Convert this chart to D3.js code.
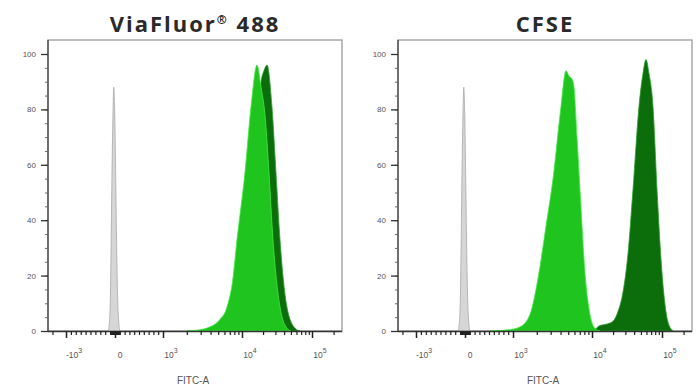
<!DOCTYPE html>
<html>
<head>
<meta charset="utf-8">
<script src="https://cdn.jsdelivr.net/npm/d3@7"></script>
<style>
  body { margin: 0; background: #fff; }
  svg { display: block; font-family: "Liberation Sans", Arial, sans-serif; }
</style>
</head>
<body>
<svg id="chart" width="700" height="390"></svg>
<script>
// --- data (FITC-A intensity, % of max) ---
const panelTitles = ["ViaFluor", "CFSE"];
const yTicks = [0, 20, 40, 60, 80, 100];
const xTicks = [-1000, 0, 1000, 10000, 100000];
const xTickBase = ["-10", "0", "10", "10", "10"];
const xTickExp = ["3", "", "3", "4", "5"];
const xLabel = "FITC-A";

const unstained = [
  [-140, 0], [-115, 3], [-95, 12], [-80, 30], [-65, 52], [-45, 75], [-25, 88],
  [-5, 78], [15, 55], [35, 30], [55, 12], [75, 4], [100, 0]
];
const viaLight = [
  [2000, 0], [2700, 0.3], [3940, 1.5], [5200, 4], [6450, 8.6], [7600, 18], [8650, 33],
  [11000, 57], [13450, 81], [16400, 96], [18700, 88], [21300, 78], [24300, 57],
  [27700, 33], [34900, 8.6], [43900, 1], [50000, 0]
];
const viaDark = [
  [3500, 0], [4550, 1], [7050, 6], [9440, 20], [13000, 50], [16900, 80], [18700, 90],
  [20600, 94], [22800, 96], [26800, 81], [30600, 57], [34900, 33], [43900, 8.6],
  [57200, 1], [67500, 0]
];
const cfseLight = [
  [520, 0], [937, 0.5], [1230, 1.5], [1640, 6], [2130, 21], [2620, 38], [3210, 55],
  [4050, 81], [4690, 94], [5120, 92], [5580, 91], [5920, 88], [6460, 70], [7050, 51],
  [8150, 21], [9430, 6], [11000, 1], [13000, 0]
];
const cfseDark = [
  [10500, 0], [11000, 0.5], [13000, 2], [16400, 2.5], [19950, 3.5], [23500, 7],
  [27700, 14], [32700, 28], [38500, 51], [46900, 81], [53500, 93], [59100, 98],
  [65200, 93], [74400, 81], [84900, 51], [100000, 21], [121900, 3], [143600, 0]
];

// --- layout ---
const svg = d3.select("#chart");
const plotTop = 40, plotBottom = 331, plotW = 294;
const panels = [
  { left: 48, title: panelTitles[0], series: [unstained, viaDark, viaLight] },
  { left: 398, title: panelTitles[1], series: [unstained, cfseDark, cfseLight] }
];
const fills = ["#d6d6d6", "#0b6e0b", "#1fc41f"];
const strokes = ["#a8a8a8", "#2f9a2f", "#45e845"];

// biexponential-ish display transform: linear around zero, log above 10^3
function biex(v) {
  const a = Math.abs(v);
  if (a <= 1000) return v / 1000;
  return Math.sign(v) * (1 + Math.log10(a / 1000));
}

const y = d3.scaleLinear().domain([0, 100]).range([plotBottom, 54]);

const minorX = [-2000];
for (let k = -900; k <= -100; k += 100) minorX.push(k);
for (let k = -90; k <= 90; k += 10) if (k !== 0) minorX.push(k);
for (let k = 100; k <= 900; k += 100) minorX.push(k);
for (let d of [1000, 10000]) for (let m = 2; m <= 9; m++) minorX.push(m * d);
minorX.push(200000);

panels.forEach(p => {
  const x = d3.scaleLinear()
    .domain([-1.4, -1, 0, 1, 2, 3, biex(262144)])
    .range([0, 18, 67, 115, 194, 264, plotW].map(v => v + p.left));

  const g = svg.append("g");

  // frame
  g.append("rect")
    .attr("x", p.left).attr("y", plotTop)
    .attr("width", plotW).attr("height", plotBottom - plotTop)
    .attr("fill", "none").attr("stroke", "#9a9a9a").attr("stroke-width", 1.3);

  // histograms
  const area = d3.area()
    .x(d => x(biex(d[0])))
    .y0(y(0))
    .y1(d => y(d[1]))
    .curve(d3.curveMonotoneX);

  p.series.forEach((s, i) => {
    g.append("path")
      .attr("d", area(s))
      .attr("fill", fills[i])
      .attr("stroke", strokes[i])
      .attr("stroke-width", 0.8);
  });

  // y axis
  g.append("line")
    .attr("x1", p.left).attr("x2", p.left)
    .attr("y1", plotTop).attr("y2", plotBottom + 0.5)
    .attr("stroke", "#444").attr("stroke-width", 1.3);

  const yMinor = g.append("g").attr("transform", `translate(${p.left},0)`)
    .call(d3.axisLeft(y).tickValues(d3.range(0, 101, 5)).tickSize(3).tickFormat(""));
  yMinor.select(".domain").remove();
  yMinor.selectAll("line").attr("stroke", "#666");

  const yAxis = g.append("g").attr("transform", `translate(${p.left},0)`)
    .call(d3.axisLeft(y).tickValues(yTicks).tickSize(7).tickPadding(5));
  yAxis.select(".domain").remove();
  yAxis.selectAll("line").attr("stroke", "#333").attr("stroke-width", 1.3);
  yAxis.selectAll("text").attr("font-size", 8).attr("fill", "#555")
    .attr("font-family", "'Liberation Sans', Arial, sans-serif");

  // x axis
  g.append("line")
    .attr("x1", p.left).attr("x2", p.left + plotW)
    .attr("y1", plotBottom + 0.5).attr("y2", plotBottom + 0.5)
    .attr("stroke", "#333").attr("stroke-width", 1.3);

  const xMinor = g.append("g").attr("transform", `translate(0,${plotBottom})`)
    .call(d3.axisBottom(x).tickValues(minorX.map(biex)).tickSize(4).tickFormat(""));
  xMinor.select(".domain").remove();
  xMinor.selectAll("line").attr("stroke", "#222").attr("stroke-width", 1.2);

  const xAxis = g.append("g").attr("transform", `translate(0,${plotBottom})`)
    .call(d3.axisBottom(x).tickValues(xTicks.map(biex)).tickSize(7).tickFormat(""));
  xAxis.select(".domain").remove();
  xAxis.selectAll("line").attr("stroke", "#222").attr("stroke-width", 1.5);

  xTicks.forEach((v, i) => {
    const t = g.append("text")
      .attr("x", x(biex(v)) + (xTickExp[i] ? 8 : 5))
      .attr("y", 358)
      .attr("text-anchor", "middle")
      .attr("font-size", 8.5)
      .attr("fill", "#555");
    t.append("tspan").text(xTickBase[i]);
    if (xTickExp[i]) {
      t.append("tspan").attr("dy", -5).attr("font-size", 7).text(xTickExp[i]);
    }
  });

  g.append("text")
    .attr("x", p.left + plotW / 2 - 2)
    .attr("y", 384)
    .attr("text-anchor", "middle")
    .attr("font-size", 10)
    .attr("fill", "#555")
    .text(xLabel);

  // title
  const title = g.append("text")
    .attr("x", p.left + plotW / 2)
    .attr("y", 32)
    .attr("text-anchor", "middle")
    .attr("font-family", "'Open Sans', sans-serif")
    .attr("font-weight", "bold")
    .attr("font-size", 22)
    .attr("letter-spacing", 2)
    .attr("fill", "#2a2a2a");
  title.append("tspan").text(p.title);
  if (p.title === "ViaFluor") {
    title.append("tspan").attr("font-size", 12).attr("dy", -8).text("®");
    title.append("tspan").attr("dy", 8).text(" 488");
  }
});
</script>
</body>
</html>
